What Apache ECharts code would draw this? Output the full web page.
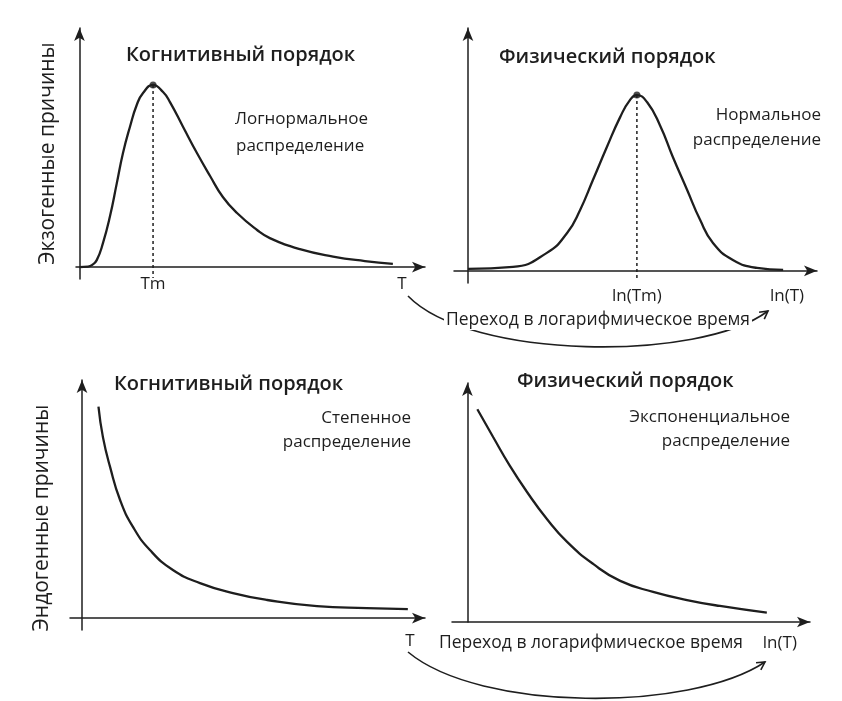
<!DOCTYPE html>
<html>
<head>
<meta charset="utf-8">
<script src="https://cdn.jsdelivr.net/npm/echarts@6/dist/echarts.min.js"></script>
<style>
  html, body { margin: 0; background: #fff; }
  #main { width: 842px; height: 701px; }
</style>
</head>
<body>
<div id="main"></div>
<script>
// когнитивный порядок, экзогенные причины — логнормальное
const lognormX = [0, 2.5, 3.6, 5, 6.8, 8.8, 10.8, 12.6, 14.6, 16.6, 18.4, 21.3, 24.2, 26.2, 30, 34, 37.8, 41.5, 45.6, 51.4, 55.1, 63.8, 73.4, 82.6, 90.7];
const lognormY = [0, 0.2, 0.8, 2.9, 10, 21, 35, 47.7, 58.6, 67.9, 72.8, 76.2, 73.2, 69, 58.6, 47.7, 38.1, 29.3, 22.6, 15.5, 12.1, 7.5, 4.4, 2.5, 1.3];
// физический порядок — нормальное
const normalX = [0, 12.9, 22.6, 28.4, 32.1, 35.8, 39.8, 43.6, 46.4, 48.4, 51.3, 55, 58.7, 62.8, 66.5, 70.2, 75.9, 82.8, 90.3];
const normalY = [0.8, 1.6, 7.4, 15.6, 25, 37.4, 51, 63.3, 70.3, 72.4, 69.5, 60, 46.9, 33.3, 21, 11.5, 4.5, 1.2, 0.4];
// когнитивный порядок, эндогенные — степенное
const powerX = [4.8, 6.1, 8.2, 11.1, 14.9, 19.8, 26.5, 34.4, 44, 54, 68.5, 83, 95];
const powerY = [88.8, 76, 63.4, 49.6, 38.2, 28.6, 20.2, 14.7, 10.5, 7.6, 5, 4.2, 3.8];
// физический порядок — экспоненциальное
const expX = [2.9, 7.5, 12.4, 17.4, 23.2, 29.1, 36.7, 44.6, 54.2, 64.1, 73.7, 87.4];
const expY = [89, 77.4, 65.3, 54.4, 43.1, 33.5, 24.3, 17.2, 12.6, 9.2, 6.7, 3.9];

// подписи на осях
const ticksTL = [21.3, 93.3], labelsTL = ['Tm', 'T'];
const ticksTR = [48.4, 91.4], labelsTR = ['ln(Tm)', 'ln(T)'];
const ticksBL = [95.6], labelsBL = ['T'];
const ticksBR = [91.2], labelsBR = ['ln(T)'];

const ink = '#1e1e1e';
const font = 'Open Sans';

function pairs(xs, ys) {
  return xs.map((x, i) => [x, ys[i]]);
}
function peakOf(xs, ys) {
  const i = ys.indexOf(Math.max(...ys));
  return [xs[i], ys[i]];
}

function xAx(grid, min, ticks, labels, margin) {
  return {
    type: 'value', gridIndex: grid, min: min, max: 100,
    splitLine: { show: false },
    axisTick: { show: false },
    axisLine: { onZero: true, symbol: ['none', 'arrow'], symbolSize: [8, 13], lineStyle: { color: ink, width: 1.5 } },
    axisLabel: {
      customValues: ticks,
      formatter: v => labels[ticks.indexOf(v)] || '',
      margin: margin, color: ink, fontSize: 17, fontFamily: font
    }
  };
}
function yAx(grid, min, name, gap, pad) {
  return {
    type: 'value', gridIndex: grid, min: min, max: 100,
    splitLine: { show: false },
    axisTick: { show: false },
    axisLabel: { show: false },
    axisLine: { onZero: true, symbol: ['none', 'arrow'], symbolSize: [8, 13], lineStyle: { color: ink, width: 1.5 } },
    name: name, nameLocation: 'middle', nameGap: gap, nameRotate: 90,
    nameTextStyle: { color: ink, fontSize: 21, fontFamily: font, padding: pad || 0 }
  };
}
function curve(i, data) {
  return {
    type: 'line', xAxisIndex: i, yAxisIndex: i, data: data, smooth: 0.5,
    symbol: 'none', lineStyle: { color: ink, width: 2.3 }, silent: true
  };
}
function dropLine(i, peak, bottom) {
  return {
    type: 'line', xAxisIndex: i, yAxisIndex: i, symbol: 'none', silent: true,
    data: [peak, [peak[0], bottom]],
    lineStyle: { color: ink, width: 1.5, type: [3, 3] }
  };
}
function peakDot(i, peak) {
  return {
    type: 'scatter', xAxisIndex: i, yAxisIndex: i, data: [peak], symbolSize: 7,
    itemStyle: { color: ink }, silent: true
  };
}

const peakTL = peakOf(lognormX, lognormY);
const peakTR = peakOf(normalX, normalY);

const titleStyle = { color: ink, fontSize: 20, fontWeight: 600, fontFamily: font };

const option = {
  backgroundColor: '#fff',
  animation: false,
  title: [
    { text: 'Когнитивный порядок', left: 121, top: 40, textStyle: titleStyle },
    { text: 'Физический порядок', left: 494, top: 42, textStyle: titleStyle },
    { text: 'Когнитивный порядок', left: 109, top: 369, textStyle: titleStyle },
    { text: 'Физический порядок', left: 512, top: 366, textStyle: titleStyle }
  ],
  grid: [
    { left: 76, top: 28, width: 349, height: 251 },
    { left: 454, top: 28, width: 363, height: 255 },
    { left: 70, top: 380, width: 355, height: 250 },
    { left: 452, top: 383, width: 358, height: 239 }
  ],
  xAxis: [
    xAx(0, -1, ticksTL, labelsTL, -3),
    xAx(1, -4, ticksTR, labelsTR, 5),
    xAx(2, -3.5, ticksBL, labelsBL, 3),
    xAx(3, -4.5, ticksBR, labelsBR, 13)
  ],
  yAxis: [
    yAx(0, -5, 'Экзогенные причины', 17),
    yAx(1, -5, '', 0),
    yAx(2, -5, 'Эндогенные причины', 17, [0, 26, 0, 0]),
    yAx(3, 0, '', 0)
  ],
  series: [
    curve(0, pairs(lognormX, lognormY)),
    dropLine(0, peakTL, -4.6),
    peakDot(0, peakTL),
    curve(1, pairs(normalX, normalY)),
    dropLine(1, peakTR, -3),
    peakDot(1, peakTR),
    curve(2, pairs(powerX, powerY)),
    curve(3, pairs(expX, expY))
  ]
};

const chart = echarts.init(document.getElementById('main'));
chart.setOption(option);

// подписи и дуги-стрелки перехода
function note(text, x, y, align, size, extra) {
  return {
    type: 'text', z: 20,
    style: Object.assign({ text: text, x: x, y: y, align: align, verticalAlign: 'middle', fill: ink, fontSize: size || 17, fontFamily: font }, extra || {})
  };
}
function arrowArc(p0, c1, c2, p3) {
  const ang = Math.atan2(p3[1] - c2[1], p3[0] - c2[0]);
  const len = 9, spread = 0.5;
  const h1 = [p3[0] - len * Math.cos(ang - spread), p3[1] - len * Math.sin(ang - spread)];
  const h2 = [p3[0] - len * Math.cos(ang + spread), p3[1] - len * Math.sin(ang + spread)];
  return [
    {
      type: 'bezierCurve', z: 5,
      shape: { x1: p0[0], y1: p0[1], cpx1: c1[0], cpy1: c1[1], cpx2: c2[0], cpy2: c2[1], x2: p3[0], y2: p3[1] },
      style: { stroke: ink, lineWidth: 1.6, fill: null }
    },
    {
      type: 'polyline', z: 5,
      shape: { points: [h1, p3, h2] },
      style: { stroke: ink, lineWidth: 1.6, fill: null }
    }
  ];
}
const band = { backgroundColor: '#fff', padding: [1, 2] };

chart.setOption({
  graphic: [
    note('Логнормальное', 235, 119, 'left'),
    note('распределение', 236, 146, 'left'),
    note('Нормальное', 821, 115, 'right'),
    note('распределение', 821, 140, 'right'),
    note('Степенное', 411, 418, 'right'),
    note('распределение', 411, 442, 'right'),
    note('Экспоненциальное', 790, 417, 'right'),
    note('распределение', 790, 441, 'right'),
    note('Переход в логарифмическое время', 598, 320, 'center', 17.5, band),
    note('Переход в логарифмическое время', 591, 643, 'center', 17.5),
    ...arrowArc([408, 296], [470, 360], [700, 362], [768, 311]),
    ...arrowArc([408, 652], [480, 712], [690, 712], [765, 662])
  ]
});
</script>
</body>
</html>
